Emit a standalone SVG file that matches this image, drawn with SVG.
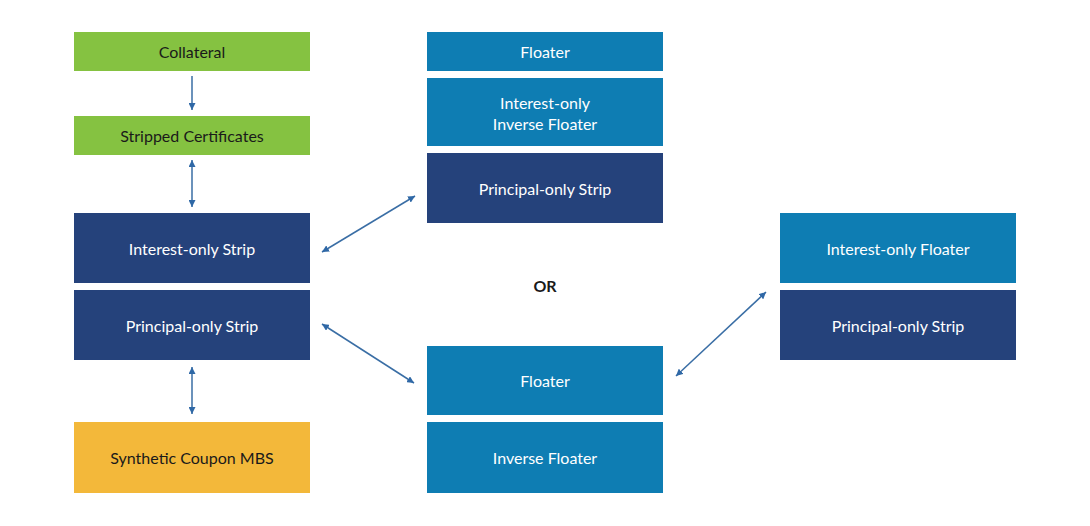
<svg xmlns="http://www.w3.org/2000/svg" width="1090" height="526" viewBox="0 0 1090 526">
<style>
text{font-family:"Lato","Liberation Sans",sans-serif;font-size:16px;fill:#fff;text-anchor:middle;dominant-baseline:central}
.g{fill:#85c241}.l{fill:#0e7db3}.d{fill:#25427b}.y{fill:#f3b83a}
.dk{fill:#1a1a1a}
.c{stroke:#3a6ea5;stroke-width:1.5;fill:none;marker-end:url(#a)}
.b{marker-start:url(#s)}
</style>
<defs>
<marker id="a" viewBox="0 0 10 10" refX="10" refY="5" markerWidth="7" markerHeight="7" markerUnits="userSpaceOnUse" orient="auto"><path d="M0,0L10,5L0,10z" fill="#2f68a6"/></marker>
<marker id="s" viewBox="0 0 10 10" refX="0" refY="5" markerWidth="7" markerHeight="7" markerUnits="userSpaceOnUse" orient="auto"><path d="M10,0L0,5L10,10z" fill="#2f68a6"/></marker>
</defs>
<rect width="1090" height="526" fill="#fff"/>
<g id="collateral"><rect class="g" x="74" y="32" width="236" height="39"/><text class="dk" x="192" y="51.5">Collateral</text></g>
<g id="stripped"><rect class="g" x="74" y="116" width="236" height="39"/><text class="dk" x="192" y="135.5">Stripped Certificates</text></g>
<g id="io-strip"><rect class="d" x="74" y="213" width="236" height="70"/><text x="192" y="248">Interest-only Strip</text></g>
<g id="po-strip"><rect class="d" x="74" y="290" width="236" height="70"/><text x="192" y="325">Principal-only Strip</text></g>
<g id="synthetic"><rect class="y" x="74" y="422" width="236" height="71"/><text class="dk" x="192" y="457.5">Synthetic Coupon MBS</text></g>
<g id="floater1"><rect class="l" x="427" y="32" width="236" height="39"/><text x="545" y="51.5">Floater</text></g>
<g id="io-inverse"><rect class="l" x="427" y="78" width="236" height="68"/><text x="545" y="102">Interest-only</text><text x="545" y="123">Inverse Floater</text></g>
<g id="po-strip2"><rect class="d" x="427" y="153" width="236" height="70"/><text x="545" y="188">Principal-only Strip</text></g>
<g id="or"><text class="dk" x="545" y="285" font-weight="bold">OR</text></g>
<g id="floater2"><rect class="l" x="427" y="346" width="236" height="69"/><text x="545" y="380.5">Floater</text></g>
<g id="inverse"><rect class="l" x="427" y="422" width="236" height="71"/><text x="545" y="457.5">Inverse Floater</text></g>
<g id="io-floater"><rect class="l" x="780" y="213" width="236" height="70"/><text x="898" y="248">Interest-only Floater</text></g>
<g id="po-strip3"><rect class="d" x="780" y="290" width="236" height="70"/><text x="898" y="325">Principal-only Strip</text></g>
<g id="connectors">
<path class="c" d="M192,76V110"/>
<path class="c b" d="M192,160V207"/>
<path class="c b" d="M192,367V414"/>
<path class="c b" d="M322,252L415,196"/>
<path class="c b" d="M322,324L414,383"/>
<path class="c b" d="M676,376L766,292"/>
</g>
</svg>
